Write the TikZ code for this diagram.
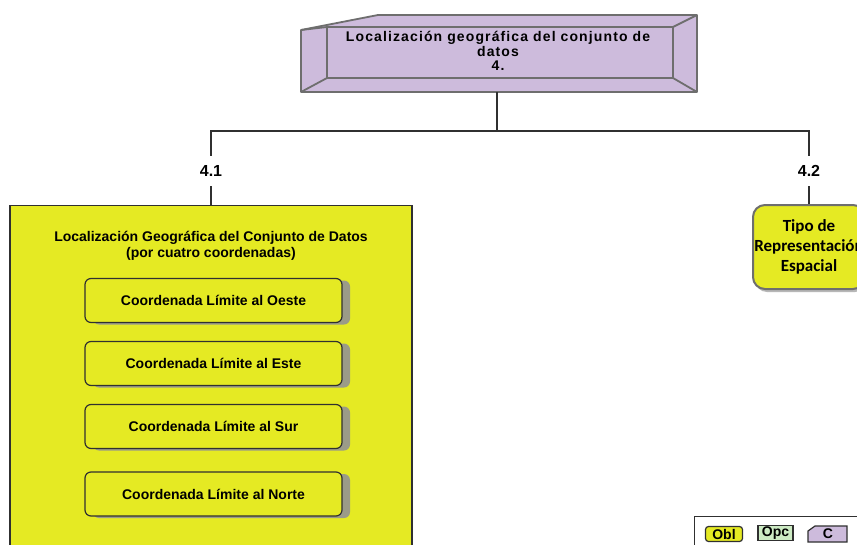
\documentclass[tikz,border=0pt]{standalone}
\usepackage{fontspec}
\setmainfont{Liberation Sans}
\newfontfamily\carl{Carlito}
\usetikzlibrary{shadows}
\definecolor{yel}{HTML}{E5EA23}
\definecolor{lav}{HTML}{CDBBDC}
\definecolor{grn}{HTML}{CDEBC4}
\definecolor{frame}{HTML}{6E6E6E}
\definecolor{dark}{HTML}{303030}
\tikzset{
  conn/.style={draw=dark, line width=1.3pt},
  lbl/.style={font=\bfseries\fontsize{16}{18}\selectfont, inner sep=0pt, minimum height=30pt},
  bigbox/.style={draw=dark, line width=1.3pt, fill=yel, inner sep=0pt},
  coordbox/.style={draw=dark, line width=1.2pt, fill=yel, rounded corners=6pt, minimum width=257pt, minimum height=44pt, inner sep=0pt,
     font=\bfseries\fontsize{14}{16}\selectfont,
     drop shadow={shadow xshift=8pt, shadow yshift=-2pt, fill=gray!85, opacity=0.9}},
  topframe/.style={draw=frame, line width=1.8pt, line join=round},
  tipobox/.style={draw=frame, line width=2pt, fill=yel, rounded corners=12pt, minimum width=112pt, minimum height=84pt, inner sep=0pt,
     align=center, font=\carl\bfseries\fontsize{17}{20}\selectfont,
     drop shadow={shadow xshift=2pt, shadow yshift=-3pt, fill=gray!70, opacity=0.8}},
  legtxt/.style={font=\bfseries\fontsize{14}{16}\selectfont, inner sep=0pt}
}
\begin{document}
\begin{tikzpicture}[x=1pt,y=-1pt]
\useasboundingbox (0,0) rectangle (857,544);
\clip (0,0) rectangle (857,544);
\fill[white] (0,0) rectangle (857,544);

% top 3D box
\fill[lav] (301,30) -- (378,15) -- (697,15) -- (697,92) -- (301,92) -- cycle;
\draw[topframe] (301,30) -- (378,15) -- (697,15) -- (697,92) -- (301,92) -- cycle;
\draw[topframe] (327,27) rectangle (673,78);
\draw[topframe] (301,30) -- (327,27);
\draw[topframe] (301,92) -- (327,78);
\draw[topframe] (697,92) -- (673,78);
\draw[topframe] (697,15) -- (673,27);
\node[inner sep=0pt, minimum width=396pt, minimum height=77pt] (top) at (497,53.5) {};
\node[align=center, font=\bfseries\fontsize{14}{14.5}\selectfont\addfontfeature{LetterSpace=8}, inner sep=0pt] (toptxt) at (498,51) {Localización geográfica del conjunto de\\datos\\4.};

% connectors and labels
\coordinate (j) at (497,131);
\node[lbl] (l41) at (211,171) {4.1};
\node[lbl] (l42) at (809,171) {4.2};
\draw[conn] (top.south) -- (j);
\draw[conn] (l41.north) |- (j) -| (l42.north);

% big box 4.1
\node[bigbox, minimum width=402pt, minimum height=400pt, anchor=north] (b41) at (211,205) {};
\draw[conn] (l41.south) -- (b41.north);
\node[align=center, font=\bfseries\fontsize{14}{15.5}\selectfont, inner sep=0pt] (title) at (211,246) {Localización Geográfica del Conjunto de Datos\\(por cuatro coordenadas)};
\node[coordbox] (o1) at (213.5,300.5) {Coordenada Límite al Oeste};
\node[coordbox] (o2) at (213.5,363.5) {Coordenada Límite al Este};
\node[coordbox] (o3) at (213.5,426.5) {Coordenada Límite al Sur};
\node[coordbox] (o4) at (213.5,494) {Coordenada Límite al Norte};

% box 4.2
\node[tipobox, anchor=north] (b42) at (809,204) {Tipo de\\Representación\\Espacial};
\draw[conn] (l42.south) -- (b42.north);

% legend
\node[draw=dark, line width=1pt, fill=white, anchor=north west, minimum width=180pt, minimum height=40pt, inner sep=0pt] (leg) at (694,516) {};
\node[legtxt, draw=dark, line width=1.2pt, fill=yel, rounded corners=3pt, minimum width=37pt, minimum height=15pt] (obl) at (724,534) {Obl};
\node[legtxt, draw=dark, line width=1.2pt, fill=grn, minimum width=35pt, minimum height=15pt] (opc) at (775.5,533) {Opc};
\fill[lav] (808,531) -- (815,526) -- (847,526) -- (847,542) -- (808,542) -- cycle;
\draw[dark, line width=1.2pt] (808,531) -- (815,526) -- (847,526) -- (847,542) -- (808,542) -- cycle;
\node[legtxt] (cl) at (828,534) {C};
\end{tikzpicture}
\end{document}
